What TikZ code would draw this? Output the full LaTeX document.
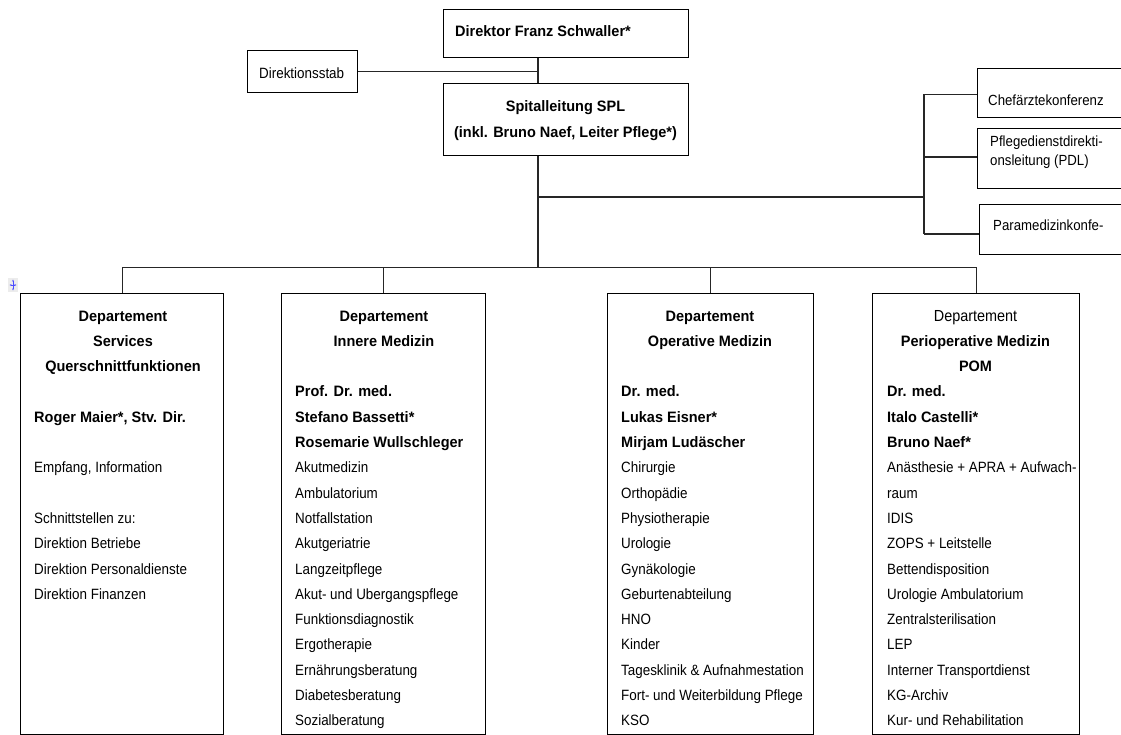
\documentclass[tikz,border=0pt]{standalone}
\usepackage{fontspec}
\setmainfont[UprightFeatures={FakeStretch=0.9},BoldFeatures={FakeStretch=0.96}]{Liberation Sans}
\usetikzlibrary{arrows.meta}
\newcommand\HB{\fontsize{15.1}{25.3}\selectfont\bfseries}
\newcommand\RG{\fontsize{14.9}{25.3}\selectfont}
\newcommand\SM{\fontsize{14.7}{19}\selectfont}
\begin{document}
\begin{tikzpicture}[x=1pt,y=-1pt,
  box/.style={draw, line width=1.1pt, inner sep=0, anchor=north west},
  txt/.style={inner sep=0, font=\RG},
  conn/.style={line width=1.1pt, draw=black!85}]
\useasboundingbox (0,0) rectangle (1121,735);
\clip (0,0) rectangle (1121,735);
% top boxes
\node[box, minimum width=245pt, minimum height=48pt] (dir) at (443,9) {};
\node[box, minimum width=245pt, minimum height=72pt] (spl) at (443,83) {};
\node[box, minimum width=110pt, minimum height=42pt] (stab) at (247,50) {};
\node[box, minimum width=150pt, minimum height=49pt] (chef) at (977,68) {};
\node[box, minimum width=150pt, minimum height=60pt] (pdl) at (977,128) {};
\node[box, minimum width=150pt, minimum height=50pt] (para) at (979,204) {};
% department boxes
\node[box, minimum width=203pt, minimum height=441pt] (d1) at (20,293) {};
\node[box, minimum width=204pt, minimum height=441pt] (d2) at (281,293) {};
\node[box, minimum width=206pt, minimum height=441pt] (d3) at (607,293) {};
\node[box, minimum width=207pt, minimum height=441pt] (d4) at (872,293) {};
% texts top
\node[txt, anchor=base west] (tdir) at (455,37) {\HB Direktor Franz Schwaller*};
\node[txt, anchor=base] (tspl) at (565.5,112) {\begin{tabular}[t]{@{}c@{}}\HB Spitalleitung SPL\\ \HB (inkl. Bruno Naef, Leiter Pflege*)\end{tabular}};
\node[txt, anchor=base west] (tstab) at (259,79) {Direktionsstab};
\node[txt, anchor=base west, font=\SM] (tchef) at (988,105.7) {Chefärztekonferenz};
\node[txt, anchor=base west, font=\SM] (tpdl) at (990,146.5) {\begin{tabular}[t]{@{}l@{}}Pflegedienstdirekti-\\onsleitung (PDL)\end{tabular}};
\node[txt, anchor=base west, font=\SM] (tpara) at (993,230.7) {Paramedizinkonfe-};
% department 1
\node[txt, anchor=base] (h1) at (123,321) {\begin{tabular}[t]{@{}c@{}}\HB Departement\\ \HB Services\\ \HB Querschnittfunktionen\end{tabular}};
\node[txt, anchor=base west] (b1) at (34,422.2) {\begin{tabular}[t]{@{}l@{}}\HB Roger Maier*, Stv. Dir.\\ \\ Empfang, Information\\ \\ Schnittstellen zu:\\ Direktion Betriebe\\ Direktion Personaldienste\\ Direktion Finanzen\end{tabular}};
% department 2
\node[txt, anchor=base] (h2) at (384,321) {\begin{tabular}[t]{@{}c@{}}\HB Departement\\ \HB Innere Medizin\end{tabular}};
\node[txt, anchor=base west] (b2) at (295,396.9) {\begin{tabular}[t]{@{}l@{}}\HB Prof. Dr. med.\\ \HB Stefano Bassetti*\\ \HB Rosemarie Wullschleger\\ Akutmedizin\\ Ambulatorium\\ Notfallstation\\ Akutgeriatrie\\ Langzeitpflege\\ Akut- und Ubergangspflege\\ Funktionsdiagnostik\\ Ergotherapie\\ Ernährungsberatung\\ Diabetesberatung\\ Sozialberatung\end{tabular}};
% department 3
\node[txt, anchor=base] (h3) at (710,321) {\begin{tabular}[t]{@{}c@{}}\HB Departement\\ \HB Operative Medizin\end{tabular}};
\node[txt, anchor=base west] (b3) at (621,396.9) {\begin{tabular}[t]{@{}l@{}}\HB Dr. med.\\ \HB Lukas Eisner*\\ \HB Mirjam Ludäscher\\ Chirurgie\\ Orthopädie\\ Physiotherapie\\ Urologie\\ Gynäkologie\\ Geburtenabteilung\\ HNO\\ Kinder\\ Tagesklinik \& Aufnahmestation\\ Fort- und Weiterbildung Pflege\\ KSO\end{tabular}};
% department 4
\node[txt, anchor=base] (h4) at (975.5,321) {\begin{tabular}[t]{@{}c@{}}{\fontsize{16}{25.3}\selectfont Departement}\\ \HB Perioperative Medizin\\ \HB POM\end{tabular}};
\node[txt, anchor=base west] (b4) at (887,396.9) {\begin{tabular}[t]{@{}l@{}}\HB Dr. med.\\ \HB Italo Castelli*\\ \HB Bruno Naef*\\ Anästhesie + APRA + Aufwach-\\ raum\\ IDIS\\ ZOPS + Leitstelle\\ Bettendisposition\\ Urologie Ambulatorium\\ Zentralsterilisation\\ LEP\\ Interner Transportdienst\\ KG-Archiv\\ Kur- und Rehabilitation\end{tabular}};
% junction coordinates
\coordinate (trunk) at (538,0);
\coordinate (bus) at (0,267.5);
\coordinate (rb) at (538,197);
\coordinate (rv) at (924,197);
\coordinate (rtop) at (924,94.5);
\coordinate (rmid) at (924,157);
\coordinate (rbot) at (924,234);
% connectors
\draw[conn] (dir.south -| trunk) -- (spl.north -| trunk);
\draw[conn] (stab.east) -- (stab.east -| trunk);
\draw[conn] (spl.south -| trunk) -- (bus -| trunk);
\draw[conn] (rb) -- (rv);
\draw[conn] (rtop) -- (rbot);
\draw[conn] (rtop) -- (rtop -| chef.west);
\draw[conn] (rmid) -- (rmid -| pdl.west);
\draw[conn] (rbot) -- (rbot -| para.west);
\draw[conn] (d1.north) -- (d1.north |- bus) -- (d4.north |- bus) -- (d4.north);
\draw[conn] (d2.north) -- (d2.north |- bus);
\draw[conn] (d3.north) -- (d3.north |- bus);
% table handle icon
\fill[gray!15] (8,278) rectangle (18,292);
\draw[blue!70, line width=0.8pt, {Stealth[length=2pt]}-{Stealth[length=2pt]}] (13,279.5) -- (13,290.5);
\draw[blue!70, line width=0.8pt, {Stealth[length=2pt]}-{Stealth[length=2pt]}] (9.5,285) -- (16.5,285);
\end{tikzpicture}
\end{document}
